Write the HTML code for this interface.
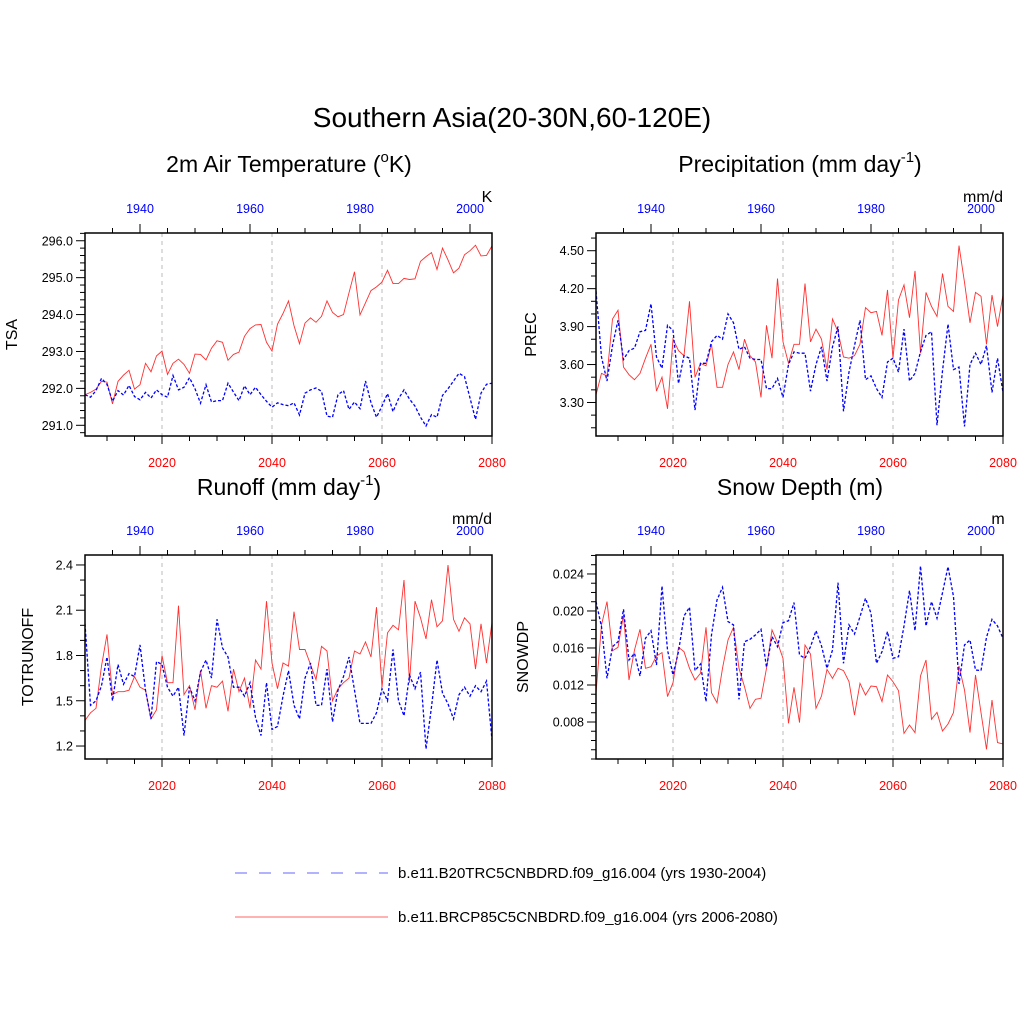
<!DOCTYPE html>
<html><head><meta charset="utf-8"><style>
html,body{margin:0;padding:0;background:#fff;}
svg{display:block;font-family:"Liberation Sans",sans-serif;}
</style></head><body>
<svg id="chart" width="1024" height="1024" viewBox="0 0 1024 1024" xmlns="http://www.w3.org/2000/svg">
<rect x="0" y="0" width="1024" height="1024" fill="#fff"/>
<text x="512" y="127" font-size="28" text-anchor="middle">Southern Asia(20-30N,60-120E)</text>
<text x="289" y="172" font-size="23" text-anchor="middle">2m Air Temperature (<tspan font-size="15" dy="-10">o</tspan><tspan dy="10">K)</tspan></text>
<text x="800" y="172" font-size="23" text-anchor="middle">Precipitation (mm day<tspan font-size="15" dy="-10">-1</tspan><tspan dy="10">)</tspan></text>
<text x="289" y="495" font-size="23" text-anchor="middle">Runoff (mm day<tspan font-size="15" dy="-10">-1</tspan><tspan dy="10">)</tspan></text>
<text x="800" y="495" font-size="23" text-anchor="middle">Snow Depth (m)</text>
<g id="panels"></g>
<g>
<line x1="235" y1="873" x2="388" y2="873" stroke="#6666ff" stroke-width="1" stroke-dasharray="12,12"/>
<text x="398" y="878" font-size="15">b.e11.B20TRC5CNBDRD.f09_g16.004 (yrs 1930-2004)</text>
<line x1="235" y1="917" x2="388" y2="917" stroke="#ff6666" stroke-width="1"/>
<text x="398" y="922" font-size="15">b.e11.BRCP85C5CNBDRD.f09_g16.004 (yrs 2006-2080)</text>
</g>
</svg>
<script>
const nYears = 75;
const futureStart = 2006;
const histStart = 1930;
const bottomTicks = [2020, 2040, 2060, 2080];
const topTicks = [1940, 1960, 1980, 2000];

const tsaRed = [291.83,291.89,291.98,292.19,292.17,291.58,292.19,292.36,292.49,291.98,292.10,292.68,292.45,292.88,293.01,292.38,292.68,292.79,292.65,292.41,292.93,292.92,292.77,293.09,293.29,293.25,292.76,292.92,292.98,293.41,293.62,293.72,293.73,293.25,293.01,293.74,294.03,294.37,293.70,293.21,293.77,293.91,293.79,293.95,294.37,294.06,293.94,294.00,294.59,295.16,293.99,294.32,294.65,294.75,294.88,295.20,294.84,294.84,294.98,294.95,294.97,295.44,295.57,295.68,295.22,295.80,295.48,295.13,295.26,295.62,295.73,295.88,295.59,295.60,295.86];
const tsaBlue = [291.83,291.76,291.94,292.27,292.11,291.65,291.94,291.82,292.08,291.78,291.69,291.89,291.74,291.96,291.83,291.76,292.35,291.96,292.03,292.29,291.99,291.60,292.10,291.63,291.67,291.67,292.14,291.90,291.67,292.07,291.83,292.03,291.83,291.65,291.49,291.61,291.56,291.53,291.61,291.28,291.87,291.96,292.01,291.92,291.25,291.22,291.83,291.94,291.43,291.63,291.45,292.20,291.61,291.22,291.52,291.86,291.37,291.72,291.96,291.71,291.52,291.22,290.98,291.29,291.22,291.81,291.99,292.20,292.41,292.32,291.74,291.16,291.87,292.11,292.14];
const tsaTicks = [291, 292, 293, 294, 295, 296];

const precRed = [3.36,3.53,3.51,3.96,4.03,3.58,3.52,3.48,3.53,3.65,3.76,3.39,3.50,3.25,3.80,3.71,3.67,4.10,3.50,3.61,3.59,3.76,3.42,3.42,3.60,3.70,3.56,3.80,3.67,3.62,3.34,3.91,3.65,4.28,3.78,3.61,3.76,3.76,4.24,3.78,3.88,3.80,3.56,3.96,3.86,3.66,3.65,3.67,3.76,4.05,4.01,4.02,3.83,4.19,3.65,4.11,4.23,3.97,4.34,3.69,4.17,4.06,3.98,4.32,4.06,4.02,4.54,4.25,3.93,4.17,4.14,3.76,4.15,3.90,4.15];
const precBlue = [4.18,3.66,3.47,3.75,3.95,3.64,3.71,3.73,3.86,3.87,4.08,3.66,3.57,3.91,3.87,3.45,3.67,3.65,3.24,3.61,3.61,3.78,3.83,3.80,4.00,3.93,3.72,3.74,3.65,3.64,3.64,3.41,3.41,3.49,3.34,3.60,3.70,3.69,3.69,3.39,3.60,3.74,3.47,3.74,3.90,3.23,3.54,3.75,3.95,3.48,3.51,3.41,3.34,3.62,3.65,3.54,3.88,3.47,3.53,3.70,3.83,3.86,3.12,3.55,3.92,3.56,3.58,3.11,3.60,3.69,3.60,3.75,3.38,3.65,3.38];
const precTicks = [3.3, 3.6, 3.9, 4.2, 4.5];

const runRed = [1.37,1.42,1.45,1.73,1.94,1.54,1.56,1.56,1.57,1.66,1.59,1.57,1.38,1.44,1.80,1.62,1.62,2.13,1.54,1.60,1.44,1.70,1.45,1.60,1.59,1.63,1.43,1.71,1.56,1.65,1.45,1.77,1.71,2.16,1.75,1.58,1.75,1.73,2.09,1.84,1.84,1.74,1.64,1.86,1.83,1.50,1.58,1.62,1.65,1.83,1.81,1.89,1.79,2.12,1.59,1.95,2.00,1.97,2.30,1.62,2.16,2.05,1.91,2.17,1.99,2.03,2.40,2.04,1.96,2.05,2.01,1.71,2.01,1.75,2.02];
const runBlue = [2.01,1.47,1.50,1.60,1.79,1.50,1.74,1.61,1.68,1.66,1.87,1.57,1.38,1.76,1.74,1.59,1.53,1.59,1.27,1.59,1.50,1.69,1.77,1.65,2.04,1.85,1.79,1.59,1.59,1.53,1.62,1.39,1.27,1.62,1.31,1.33,1.53,1.70,1.47,1.38,1.65,1.75,1.47,1.47,1.71,1.36,1.57,1.66,1.79,1.57,1.35,1.35,1.35,1.42,1.58,1.50,1.84,1.50,1.40,1.67,1.58,1.69,1.18,1.46,1.77,1.55,1.48,1.38,1.54,1.59,1.53,1.60,1.56,1.63,1.24];
const runTicks = [1.2, 1.5, 1.8, 2.1, 2.4];

const snowRed = [0.01110,0.01849,0.02101,0.01571,0.01607,0.01957,0.01254,0.01578,0.01802,0.01380,0.01398,0.01514,0.01550,0.01074,0.01225,0.01607,0.01560,0.01380,0.01254,0.01326,0.01823,0.01117,0.01009,0.01380,0.01686,0.01823,0.01380,0.01182,0.00948,0.01045,0.01056,0.01380,0.01795,0.01658,0.01488,0.00786,0.01175,0.00793,0.01632,0.01535,0.00948,0.01081,0.01369,0.01272,0.01380,0.01355,0.01236,0.00876,0.01218,0.01092,0.01189,0.01182,0.01020,0.01308,0.01236,0.01139,0.00677,0.00768,0.00685,0.01297,0.01470,0.00829,0.00905,0.00703,0.00778,0.00901,0.01405,0.01146,0.00685,0.01308,0.00901,0.00505,0.01038,0.00577,0.00562];
const snowBlue = [0.02101,0.01831,0.01272,0.01614,0.01668,0.02018,0.01470,0.01542,0.01297,0.01705,0.01787,0.01416,0.02270,0.01578,0.01308,0.01560,0.01946,0.02040,0.01355,0.01427,0.01020,0.01741,0.02119,0.02256,0.01885,0.01849,0.01045,0.01668,0.01694,0.01741,0.01802,0.01391,0.01723,0.01614,0.01874,0.01895,0.02090,0.01524,0.01488,0.01614,0.01787,0.01622,0.01380,0.01578,0.02306,0.01434,0.01849,0.01751,0.01939,0.02137,0.01975,0.01434,0.01560,0.01777,0.01488,0.01506,0.01838,0.02220,0.01787,0.02486,0.01838,0.02101,0.01921,0.02198,0.02479,0.02155,0.01211,0.01632,0.01686,0.01362,0.01355,0.01715,0.01910,0.01838,0.01705];
const snowTicks = [0.008, 0.012, 0.016, 0.020, 0.024];

const NS = 'http://www.w3.org/2000/svg';
const root = document.getElementById('panels');
function mk(tag, attrs, parent) {
  const el = document.createElementNS(NS, tag);
  for (const k in attrs) el.setAttribute(k, attrs[k]);
  (parent || root).appendChild(el);
  return el;
}

const panels = [
  {key:'tsa', x0:85, x1:492, y0:233, y1:436, dom:[290.71,296.21], ticks:tsaTicks, minor:0.2, dec:1, red:tsaRed, blue:tsaBlue, ylab:'TSA', ylx:17, unit:'K', unitX:487},
  {key:'prec', x0:596, x1:1003, y0:233, y1:436, dom:[3.035,4.64], ticks:precTicks, minor:0.1, dec:2, red:precRed, blue:precBlue, ylab:'PREC', ylx:536, unit:'mm/d', unitX:983},
  {key:'runoff', x0:85, x1:492, y0:555, y1:759, dom:[1.114,2.466], ticks:runTicks, minor:0.1, dec:1, red:runRed, blue:runBlue, ylab:'TOTRUNOFF', ylx:33, unit:'mm/d', unitX:472},
  {key:'snow', x0:596, x1:1003, y0:555, y1:759, dom:[0.004,0.02605], ticks:snowTicks, minor:0.001, dec:3, red:snowRed, blue:snowBlue, ylab:'SNOWDP', ylx:528, unit:'m', unitX:998}
];

panels.forEach(p => {
  const g = mk('g', {});
  
  
  const xF = yr => p.x0 + (yr - futureStart) * (p.x1 - p.x0) / (nYears - 1);
  const xH = yr => p.x0 + (yr - histStart) * (p.x1 - p.x0) / (nYears - 1);
  const yS = v => p.y1 - (v - p.dom[0]) / (p.dom[1] - p.dom[0]) * (p.y1 - p.y0);

  bottomTicks.slice(0, 3).forEach(t => {
    const l = mk('line', {x1:xF(t), x2:xF(t), y1:p.y0, y2:p.y1, stroke:'#bbb', 'stroke-width':1, 'stroke-dasharray':'4,4'}, g);
    
    
  });

  for (let yr = futureStart + 4; yr <= futureStart + nYears - 1; yr += 5) {
    const major = bottomTicks.indexOf(yr) >= 0;
    const l = mk('line', {x1:xF(yr), x2:xF(yr), y1:p.y1, y2:p.y1 + (major ? 8 : 5), stroke:'#000', 'stroke-width':1}, g);
    
    
  }
  bottomTicks.forEach(t => {
    const tx = mk('text', {x:xF(t), y:p.y1 + 31, 'font-size':12.5, 'text-anchor':'middle', fill:'#ff0000'}, g);
    
    
    tx.textContent = t;
  });
  for (let yr = histStart + 5; yr <= histStart + nYears - 1; yr += 5) {
    const major = topTicks.indexOf(yr) >= 0;
    const l = mk('line', {x1:xH(yr), x2:xH(yr), y1:p.y0, y2:p.y0 - (major ? 9 : 5), stroke:'#000', 'stroke-width':1}, g);
    
    
  }
  topTicks.forEach(t => {
    const tx = mk('text', {x:xH(t), y:p.y0 - 20, 'font-size':12.5, 'text-anchor':'middle', fill:'#0000ff'}, g);
    
    
    tx.textContent = t;
  });
  const start = Math.ceil(p.dom[0] / p.minor - 1e-6);
  for (let k = start; k * p.minor <= p.dom[1] + 1e-9; k++) {
    const v = k * p.minor;
    const major = p.ticks.some(t => Math.abs(t - v) < p.minor / 10);
    const l = mk('line', {x1:p.x0, x2:p.x0 - (major ? 9 : 5), y1:yS(v), y2:yS(v), stroke:'#000', 'stroke-width':1}, g);
    
    
  }
  p.ticks.forEach(t => {
    const tx = mk('text', {x:p.x0 - 12, y:yS(t) + 4.5, 'font-size':12.5, 'text-anchor':'end'}, g);
    
    
    tx.textContent = t.toFixed(p.dec);
  });
  const yt = mk('text', {x:p.ylx, y:(p.y0 + p.y1) / 2, 'font-size':16, 'text-anchor':'middle', transform:'rotate(-90 ' + p.ylx + ' ' + ((p.y0 + p.y1) / 2) + ')'}, g);
  
  
  yt.textContent = p.ylab;
  const ut = mk('text', {x:p.unitX, y:p.y0 - 31, 'font-size':16, 'text-anchor':'middle'}, g);
  
  
  ut.textContent = p.unit;

  const cp = 'clip-' + p.key;
  const cpEl = mk('clipPath', {id:cp}, g);
  mk('rect', {x:p.x0, y:p.y0, width:p.x1 - p.x0, height:p.y1 - p.y0}, cpEl);
  const redPts = p.red.map((v, i) => xF(futureStart + i).toFixed(1) + ',' + yS(v).toFixed(1)).join(' ');
  const bluePts = p.blue.map((v, i) => xH(histStart + i).toFixed(1) + ',' + yS(v).toFixed(1)).join(' ');
  const rl = mk('polyline', {points:redPts, fill:'none', stroke:'#ff3030', 'stroke-width':0.9, 'clip-path':'url(#' + cp + ')'}, g);
  
  
  const bl = mk('polyline', {points:bluePts, fill:'none', stroke:'#0000ff', 'stroke-width':1.3, 'stroke-dasharray':'3,2', 'clip-path':'url(#' + cp + ')'}, g);
  
  

  const box = mk('rect', {x:p.x0, y:p.y0, width:p.x1 - p.x0, height:p.y1 - p.y0, fill:'none', stroke:'#000', 'stroke-width':1.5}, g);
  
  
});
</script>
</body></html>
